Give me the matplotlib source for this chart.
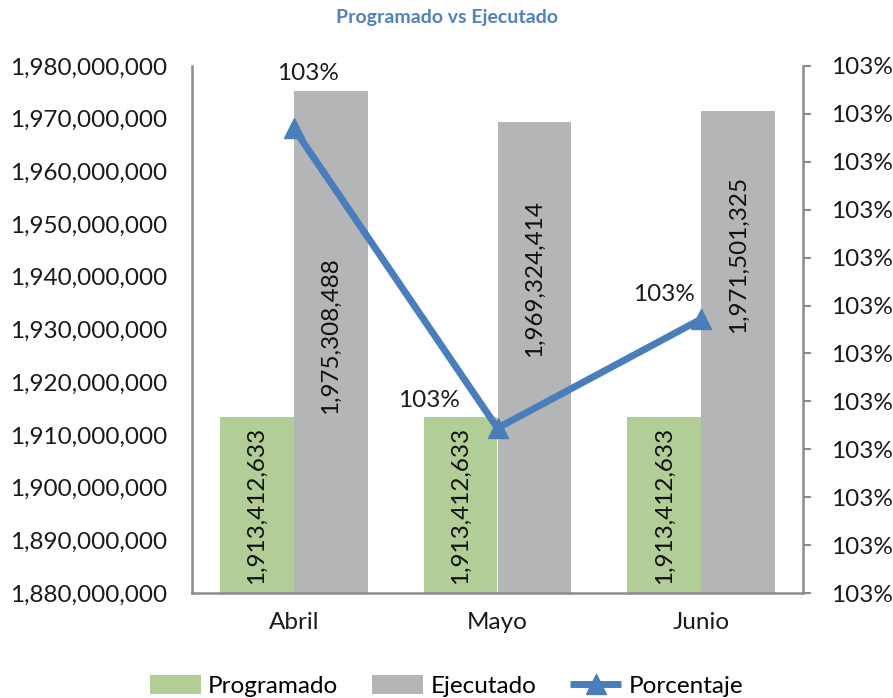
import matplotlib.pyplot as plt
import matplotlib.ticker as mticker
import numpy as np

# data
meses = ['Abril', 'Mayo', 'Junio']
programado = [1913412633, 1913412633, 1913412633]
ejecutado = [1975308488, 1969324414, 1971501325]
porcentaje = [e / p for e, p in zip(ejecutado, programado)]

# where the executed-bar labels sit (they were nudged by hand in the original)
label_y_ejec = [1928900000, 1939700000, 1944300000]

plt.rcParams['font.family'] = ['Lato', 'DejaVu Sans']

verde = '#B3CD97'
gris = '#B3B5B6'
azul = '#4A7EBB'
eje = '#8C8C8C'
txt = '#1a1a1a'
fs = 17.5

fig = plt.figure(figsize=(8.93, 6.98), dpi=100)
ax = fig.add_axes([192 / 893, 1 - 593 / 698, (803 - 192) / 893, (593 - 66) / 698])
x = np.arange(len(meses))
w = 0.363

b1 = ax.bar(x - w / 2, programado, w, color=verde, label='Programado')
b2 = ax.bar(x + w / 2, ejecutado, w, color=gris, label='Ejecutado')

ax.set_ylim(1880000000, 1980000000)
ax.set_xlim(-0.5, 2.5)
ax.yaxis.set_major_locator(mticker.MultipleLocator(10000000))
ax.yaxis.set_major_formatter(mticker.FuncFormatter(lambda v, p: f'{v:,.0f}'))
ax.set_xticks(x)
ax.set_xticklabels(meses)
ax.tick_params(axis='y', length=0, labelsize=fs, pad=18, colors=txt)
ax.tick_params(axis='x', length=0, labelsize=fs, pad=14, colors=txt)
for s in ['top', 'right']:
    ax.spines[s].set_visible(False)
for s in ['left', 'bottom']:
    ax.spines[s].set_color(eje)
    ax.spines[s].set_linewidth(1.8)

for r, v in zip(b1, programado):
    ax.text(r.get_x() + r.get_width() / 2, (1880000000 + v) / 2, f'{v:,.0f}',
            rotation=90, ha='center', va='center', fontsize=fs, color='#111111')
for r, v, ly in zip(b2, ejecutado, label_y_ejec):
    ax.text(r.get_x() + r.get_width() / 2, ly, f'{v:,.0f}',
            rotation=90, ha='center', va='center', fontsize=fs, color='#111111')

ax2 = ax.twinx()
ax2.set_ylim(1.0275, 1.033)
ax2.yaxis.set_major_locator(mticker.MultipleLocator(0.0005))
ax2.yaxis.set_major_formatter(mticker.FuncFormatter(lambda v, p: f'{v * 100:.0f}%'))
ax2.tick_params(axis='y', length=6, width=1.5, color=eje, labelsize=fs, pad=14, labelcolor=txt)
for s in ['top', 'left', 'bottom']:
    ax2.spines[s].set_visible(False)
ax2.spines['right'].set_color(eje)
ax2.spines['right'].set_linewidth(1.8)

ln, = ax2.plot(x, porcentaje, color=azul, linewidth=5, marker='^', markersize=14,
               label='Porcentaje', solid_capstyle='butt')
offsets = [(14, 55), (-69, 28), (-37, 25)]
for xi, v, off in zip(x, porcentaje, offsets):
    ax2.annotate(f'{v * 100:.0f}%', (xi, v), xytext=off, textcoords='offset pixels',
                 ha='center', va='center', fontsize=fs, color=txt)

fig.text(0.5, 1 - 18 / 698, 'Programado vs Ejecutado', ha='center', va='center',
         fontsize=14, fontweight='bold', color='#4F81BD')

fig.legend([b1, b2, ln], ['Programado', 'Ejecutado', 'Porcentaje'], loc='center',
           bbox_to_anchor=(0.5, 1 - 686 / 698), ncol=3, frameon=False, fontsize=fs,
           handlelength=2.1, handleheight=0.8, columnspacing=1.4, handletextpad=0.3)

fig.savefig('out.png', dpi=100)
